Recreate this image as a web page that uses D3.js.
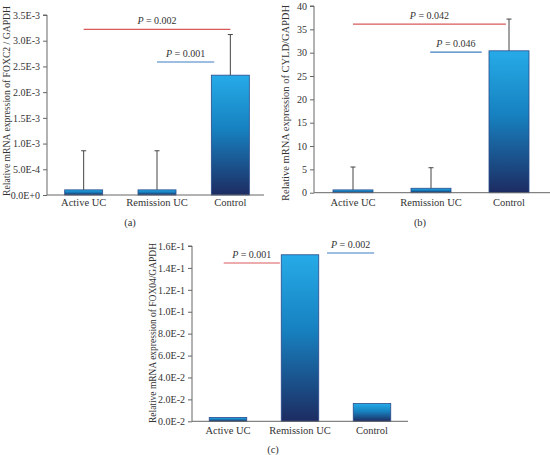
<!DOCTYPE html>
<html>
<head>
<meta charset="utf-8">
<script src="https://cdn.jsdelivr.net/npm/d3@7"></script>
<style>
  body { margin: 0; background: #fff; }
  svg { display: block; }
  text { font-family: "Liberation Serif", "DejaVu Serif", serif; fill: #333; }
</style>
</head>
<body>
<svg id="chart" width="550" height="455"></svg>
<script>
// ---------- DATA ----------
const categories = ["Active UC", "Remission UC", "Control"];

const foxc2Values = [0.0001, 0.0001, 0.00233];
const foxc2SD     = [0.00076, 0.00076, 0.00079];
const foxc2Ticks  = [0, 0.0005, 0.001, 0.0015, 0.002, 0.0025, 0.003, 0.0035];
const foxc2TickLabels = ["0.0E+0", "5.0E-4", "1.0E-3", "1.5E-3", "2.0E-3", "2.5E-3", "3.0E-3", "3.5E-3"];
const foxc2PValues = ["0.002", "0.001"];

const cyldValues = [0.6, 0.95, 30.4];
const cyldSD     = [4.9, 4.4, 6.8];
const cyldTicks  = [0, 5, 10, 15, 20, 25, 30, 35, 40];
const cyldTickLabels = ["0", "5", "10", "15", "20", "25", "30", "35", "40"];
const cyldPValues = ["0.042", "0.046"];

const fox04Values = [0.0035, 0.152, 0.0162];
const fox04Ticks  = [0, 0.02, 0.04, 0.06, 0.08, 0.10, 0.12, 0.14, 0.16];
const fox04TickLabels = ["0.0E-2", "2.0E-2", "4.0E-2", "6.0E-2", "8.0E-2", "1.0E-1", "1.2E-1", "1.4E-1", "1.6E-1"];
const fox04PValues = ["0.001", "0.002"];

// ---------- LAYOUT / STYLE ----------
const svg = d3.select("#chart");
const defs = svg.append("defs");
const grad = defs.append("linearGradient")
  .attr("id", "barGrad").attr("x1", 0).attr("y1", 0).attr("x2", 0).attr("y2", 1);
grad.append("stop").attr("offset", "0%").attr("stop-color", "#26abe8");
grad.append("stop").attr("offset", "45%").attr("stop-color", "#1781c0");
grad.append("stop").attr("offset", "100%").attr("stop-color", "#1d2c62");

const RED = "#d9595a", BLUE = "#3f7ec4";

const panels = [
  {
    values: foxc2Values, sd: foxc2SD, ticks: foxc2Ticks, tickLabels: foxc2TickLabels,
    x0: 47, x1: 267, axisEnd: 264, yBottom: 195, yTop: 15, max: 0.0035, barW: 38,
    title: "Relative mRNA expression of FOXC2 / GAPDH", titleX: 7, titleY: 101, titleLen: 190, titleSize: 9.5,
    xLabelY: 206, sub: "(a)", subX: 130, subY: 226,
    sig: [
      { p: foxc2PValues[0], from: 0, to: 2, y: 0.00322, color: RED },
      { p: foxc2PValues[1], from: 1, to: 1.78, y: 0.002586, color: BLUE }
    ]
  },
  {
    values: cyldValues, sd: cyldSD, ticks: cyldTicks, tickLabels: cyldTickLabels,
    x0: 314, x1: 548, axisEnd: 550, yBottom: 192.7, yTop: 6, max: 40, barW: 40,
    title: "Relative mRNA expression of CYLD/GAPDH", titleX: 285, titleY: 103, titleLen: 196, titleSize: 10,
    xLabelY: 206, sub: "(b)", subX: 420, subY: 226,
    sig: [
      { p: cyldPValues[0], from: 0, to: 1.96, y: 36.1, color: RED },
      { p: cyldPValues[1], from: 0.99, to: 1.65, y: 30.1, color: BLUE }
    ]
  },
  {
    values: fox04Values, sd: null, ticks: fox04Ticks, tickLabels: fox04TickLabels,
    x0: 192, x1: 408, axisEnd: 408, yBottom: 421.3, yTop: 246, max: 0.16, barW: 37.5,
    title: "Relative mRNA expression of FOX04/GAPDH", titleX: 153, titleY: 333, titleLen: 180, titleSize: 9.5,
    xLabelY: 434, sub: "(c)", subX: 273, subY: 453,
    sig: [
      { p: fox04PValues[0], from: -0.06, to: 0.72, y: 0.1445, color: RED },
      { p: fox04PValues[1], from: 1.375, to: 2.03, y: 0.1536, color: BLUE }
    ]
  }
];

panels.forEach(P => {
  const g = svg.append("g");
  const x = d3.scaleBand().domain(categories).range([P.x0, P.x1]).paddingInner(0).paddingOuter(0);
  const y = d3.scaleLinear().domain([0, P.max]).range([P.yBottom, P.yTop]);
  const step = x.step();
  const cx = i => x(categories[0]) + step / 2 + i * step;

  // bars
  g.selectAll("rect.bar").data(P.values).join("rect")
    .attr("class", "bar")
    .attr("x", (d, i) => x(categories[i]) + step / 2 - P.barW / 2)
    .attr("width", P.barW)
    .attr("y", d => y(d))
    .attr("height", d => y(0) - y(d))
    .attr("fill", "url(#barGrad)")
    .attr("stroke", "#2a4b8c")
    .attr("stroke-width", 0.8);

  // error bars
  if (P.sd) {
    P.values.forEach((v, i) => {
      const top = y(v + P.sd[i]);
      g.append("line").attr("x1", cx(i)).attr("x2", cx(i))
        .attr("y1", y(v)).attr("y2", top).attr("stroke", "#444").attr("stroke-width", 1);
      g.append("line").attr("x1", cx(i) - 2.5).attr("x2", cx(i) + 2.5)
        .attr("y1", top).attr("y2", top).attr("stroke", "#444").attr("stroke-width", 1);
    });
  }

  // y axis
  const yAxis = d3.axisLeft(y).tickValues(P.ticks)
    .tickFormat((d, i) => P.tickLabels[i]).tickSize(4).tickPadding(3);
  const ya = g.append("g").attr("transform", `translate(${P.x0},0)`).call(yAxis);
  ya.select(".domain").attr("stroke", "#666").attr("d", `M-4,${P.yTop}H0V${P.yBottom}`);
  ya.selectAll(".tick line").attr("stroke", "#666");
  ya.selectAll(".tick text").attr("font-size", 10).attr("fill", "#333")
    .attr("font-family", "Liberation Serif, serif");

  // x axis line
  g.append("line").attr("x1", P.x0).attr("x2", P.axisEnd)
    .attr("y1", P.yBottom).attr("y2", P.yBottom).attr("stroke", "#666").attr("stroke-width", 1);

  // x labels
  g.selectAll("text.xl").data(categories).join("text")
    .attr("class", "xl")
    .attr("x", (d, i) => cx(i))
    .attr("y", P.xLabelY)
    .attr("text-anchor", "middle")
    .attr("font-size", 10.5)
    .text(d => d);

  // y title
  g.append("text")
    .attr("transform", `translate(${P.titleX},${P.titleY}) rotate(-90)`)
    .attr("text-anchor", "middle")
    .attr("dominant-baseline", "central")
    .attr("font-size", P.titleSize)
    .attr("textLength", P.titleLen)
    .attr("lengthAdjust", "spacingAndGlyphs")
    .text(P.title);

  // significance
  P.sig.forEach(s => {
    const xa = cx(s.from), xb = cx(s.to), yy = y(s.y);
    g.append("line").attr("x1", xa).attr("x2", xb).attr("y1", yy).attr("y2", yy)
      .attr("stroke", s.color).attr("stroke-width", 1.2);
    const t = g.append("text").attr("x", (xa + xb) / 2).attr("y", yy - 5)
      .attr("text-anchor", "middle").attr("font-size", 10);
    t.append("tspan").attr("font-style", "italic").text("P");
    t.append("tspan").text(" = " + s.p);
  });

  // subfigure label
  g.append("text").attr("x", P.subX).attr("y", P.subY)
    .attr("text-anchor", "middle").attr("font-size", 10.5).text(P.sub);
});
</script>
</body>
</html>
